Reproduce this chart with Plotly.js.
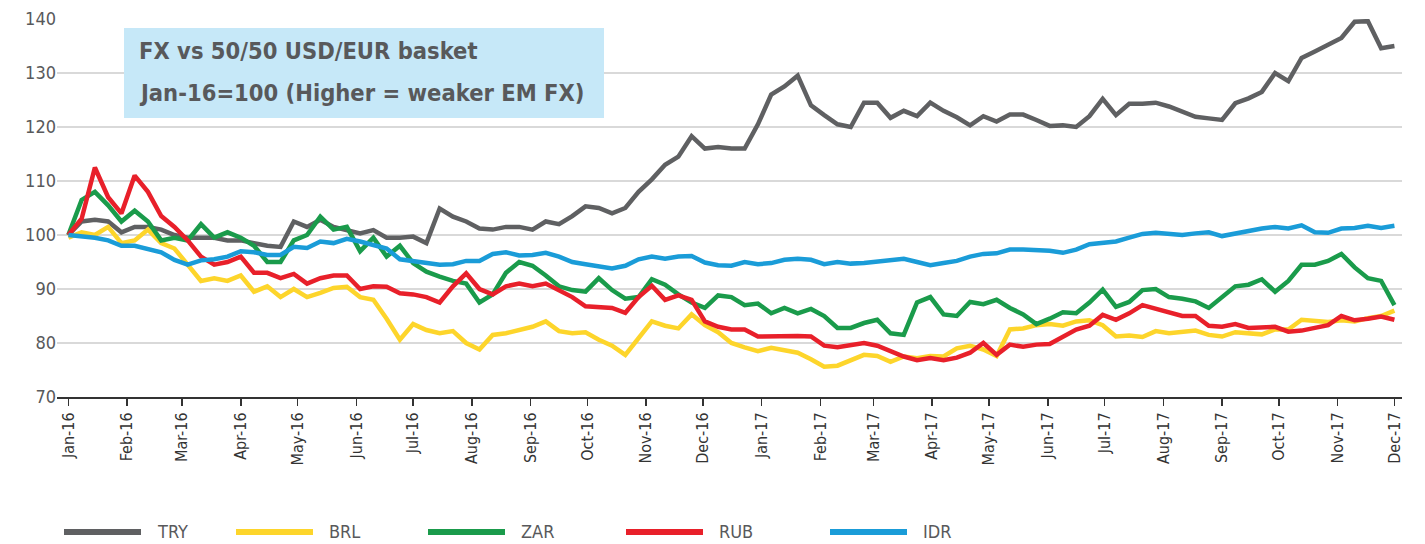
<!DOCTYPE html>
<html>
<head>
<meta charset="utf-8">
<script src="https://cdn.plot.ly/plotly-3.0.1.min.js"></script>
<style>
  html, body { margin: 0; padding: 0; background: #ffffff; }
  #chart { width: 1425px; height: 544px; }
</style>
</head>
<body>
<div id="chart"></div>
<script>
// Weekly observations, starting 1 Jan 2016 (101 weeks up to 1 Dec 2017)
const startDate = '2016-01-01';
const weeks = 101;

const seriesNames = ['TRY', 'BRL', 'ZAR', 'RUB', 'IDR'];
const seriesColors = ['#5f6062', '#fdd52b', '#1a9b4b', '#e8202a', '#1a9cd8'];

const TRY = [
  100, 102.5, 102.8, 102.5, 100.5, 101.5, 101.5, 101, 100, 99.5, 99.5, 99.5, 99, 99, 98.5, 98, 97.8,
  102.5, 101.5, 102.8, 101.5, 100.9, 100.3, 100.9, 99.5, 99.5, 99.7, 98.5, 104.9, 103.4, 102.5, 101.2, 101, 101.5,
  101.5, 101, 102.5, 102, 103.5, 105.3, 105, 104, 105, 108, 110.3, 113, 114.5, 118.3, 116, 116.3, 116,
  116, 120.5, 126, 127.5, 129.5, 124, 122.2, 120.5, 120, 124.5, 124.5, 121.7, 123, 122, 124.5, 123,
  121.8, 120.3, 122, 121, 122.3, 122.3, 121.3, 120.2, 120.3, 120, 122, 125.2, 122.2, 124.3, 124.3, 124.5, 123.8,
  122.8, 121.9, 121.6, 121.3, 124.4, 125.3, 126.5, 130, 128.5, 132.8, 134, 135.3, 136.5, 139.5, 139.6, 134.6, 135
];
const BRL = [
  99.5, 100.5, 100, 101.5, 98.5, 99, 101, 98.5, 97.5, 94.5, 91.5, 92, 91.5, 92.5, 89.5, 90.5, 88.5,
  90, 88.5, 89.3, 90.2, 90.4, 88.5, 88, 84.5, 80.6, 83.5, 82.4, 81.8, 82.2, 80, 78.8, 81.5, 81.8,
  82.5, 83, 84, 82.2, 81.8, 82, 80.6, 79.5, 77.8, 80.8, 84, 83.2, 82.7, 85.3, 83.3, 82, 80,
  79.2, 78.5, 79.1, 78.6, 78.2, 77, 75.6, 75.8, 76.8, 77.8, 77.6, 76.5, 77.5, 77.2, 77.6, 77.5,
  79, 79.5, 78.8, 77.6, 82.5, 82.7, 83.3, 83.5, 83.2, 84, 84.2, 83.3, 81.2, 81.4, 81.1, 82.2, 81.8,
  82, 82.3, 81.5, 81.2, 82, 81.8, 81.6, 82.5, 82.5, 84.3, 84.1, 83.9, 84.2, 84, 84.6, 85, 86
];
const ZAR = [
  100, 106.5, 108, 105.5, 102.5, 104.5, 102.5, 99, 99.5, 99, 102, 99.5, 100.5, 99.5, 98, 95, 95,
  99, 100, 103.4, 101, 101.5, 97, 99.5, 96, 98, 94.8, 93.2, 92.3, 91.5, 91, 87.5, 89, 93,
  95, 94.3, 92.5, 90.5, 89.8, 89.5, 92, 89.8, 88.2, 88.5, 91.8, 90.8, 89, 87.5, 86.5, 88.8, 88.5,
  87, 87.3, 85.5, 86.5, 85.5, 86.3, 85, 82.8, 82.8, 83.7, 84.3, 81.8, 81.5, 87.5, 88.5, 85.3,
  85, 87.6, 87.2, 88, 86.5, 85.3, 83.5, 84.5, 85.7, 85.5, 87.5, 89.9, 86.7, 87.6, 89.8, 90, 88.5,
  88.2, 87.7, 86.5, 88.5, 90.5, 90.8, 91.8, 89.5, 91.5, 94.5, 94.5, 95.2, 96.5, 94, 92, 91.5, 87
];
const RUB = [
  100, 103, 112.5, 107, 104, 111, 108, 103.5, 101.5, 99, 96, 94.5, 95, 96, 93, 93, 92,
  92.8, 91, 92, 92.5, 92.5, 90, 90.5, 90.4, 89.2, 89, 88.5, 87.5, 90.5, 92.9, 90, 89, 90.5,
  91, 90.5, 91, 89.7, 88.5, 86.8, 86.7, 86.5, 85.6, 88.5, 90.6, 88, 88.8, 88, 84, 83, 82.5,
  82.5, 81.2, 81.3, 81.4, 81.3, 81.2, 79.5, 79.2, 79.7, 80, 79.5, 78.5, 77.5, 76.8, 77.2, 76.8,
  77.3, 78.2, 80, 77.8, 79.7, 79.3, 79.7, 79.8, 81.2, 82.5, 83.2, 85.2, 84.3, 85.5, 87, 86.3, 85.7,
  85, 85, 83.2, 83, 83.5, 82.8, 82.8, 83, 82.1, 82.3, 82.8, 83.3, 85, 84.2, 84.5, 84.9, 84.3
];
const IDR = [
  100, 99.8, 99.5, 99, 98, 98, 97.3, 96.8, 95.4, 94.5, 95.3, 95.5, 96, 97, 96.8, 96.3, 96.3,
  97.8, 97.6, 98.8, 98.5, 99.3, 98.8, 98.2, 97.5, 95.5, 95.2, 94.8, 94.5, 94.6, 95.2, 95.2, 96.5, 96.8,
  96.2, 96.3, 96.7, 96, 95, 94.6, 94.3, 93.8, 94.3, 95.5, 96, 95.6, 96, 96.1, 94.9, 94.4, 94.3,
  95, 94.6, 94.8, 95.4, 95.6, 95.4, 94.6, 95, 94.7, 94.8, 95.1, 95.5, 95.6, 95, 94.4, 94.8,
  95.2, 96, 96.5, 96.6, 97.3, 97.3, 97.2, 97.1, 96.7, 97.3, 98.3, 98.6, 98.8, 99.5, 100.2, 100.4, 100.2,
  100, 100.3, 100.5, 99.8, 100.3, 100.8, 101.2, 101.5, 101.2, 101.8, 100.5, 100.4, 101.2, 101.3, 101.7, 101.3, 101.7
];

const titleLines = ['FX vs 50/50 USD/EUR basket', 'Jan-16=100 (Higher = weaker EM FX)'];

// ---- build chart ----
const dates = [];
const t0 = Date.parse(startDate + 'T00:00:00Z');
for (let i = 0; i < weeks; i++) {
  dates.push(new Date(t0 + i * 7 * 86400000).toISOString().slice(0, 10));
}
const seriesValues = [TRY, BRL, ZAR, RUB, IDR];

const FONT = '"Liberation Sans Narrow", "DejaVu Sans Condensed", "Roboto Condensed", Roboto, sans-serif';

const traces = seriesNames.map((n, i) => ({
  type: 'scatter', mode: 'lines', name: n,
  x: dates, y: seriesValues[i],
  line: { color: seriesColors[i], width: 4.5, shape: 'linear' },
  showlegend: false, hoverinfo: 'x+y+name'
}));

// pixel helpers (plot area: x 57..1402, y 19..397)
const W = 1425, H = 544, L = 57, R = 1402, T = 19, B = 397;
const px = x => (x - L) / (R - L);
const py = y => (B - y) / (B - T);

const shapes = [];
const annotations = [];

// title box
shapes.push({ type: 'rect', xref: 'paper', yref: 'paper', x0: px(124), x1: px(604), y0: py(118), y1: py(28),
  fillcolor: '#c6e8f8', line: { width: 0 }, layer: 'above' });
annotations.push({ xref: 'paper', yref: 'paper', x: px(137), y: py(51), xanchor: 'left', yanchor: 'middle',
  text: '<b>' + titleLines[0] + '</b>', showarrow: false, font: { family: FONT, size: 23.5, color: '#58595b' } });
annotations.push({ xref: 'paper', yref: 'paper', x: px(137), y: py(93), xanchor: 'left', yanchor: 'middle',
  text: '<b>' + titleLines[1] + '</b>', showarrow: false, font: { family: FONT, size: 23.5, color: '#58595b' } });

// custom legend
const legendX = [64, 236, 428, 626, 830];
seriesNames.forEach((n, i) => {
  shapes.push({ type: 'line', xref: 'paper', yref: 'paper', x0: px(legendX[i]), x1: px(legendX[i] + 77),
    y0: py(532), y1: py(532), line: { color: seriesColors[i], width: 6 } });
  annotations.push({ xref: 'paper', yref: 'paper', x: px(legendX[i] + 91), y: py(531), xanchor: 'left', yanchor: 'middle',
    text: n, showarrow: false, font: { family: FONT, size: 18, color: '#58595b' } });
});

const layout = {
  width: W, height: H,
  margin: { l: L, r: W - R, t: T, b: H - B },
  paper_bgcolor: '#ffffff', plot_bgcolor: '#ffffff',
  font: { family: FONT, color: '#58595b' },
  showlegend: false,
  xaxis: {
    type: 'date',
    range: ['2015-12-26', '2017-12-05'],
    tick0: '2016-01-01', dtick: 'M1', tickformat: '%b-%y',
    tickangle: -90,
    ticks: 'outside', ticklen: 7, tickwidth: 1.5, tickcolor: '#333333',
    showline: true, linecolor: '#333333', linewidth: 2,
    showgrid: false, zeroline: false,
    tickfont: { family: FONT, size: 16, color: '#333333' }
  },
  yaxis: {
    range: [70, 140], dtick: 10,
    showgrid: true, gridcolor: '#d9d9d9', gridwidth: 1.5,
    zeroline: false, showline: false, ticks: '',
    tickfont: { family: FONT, size: 18, color: '#58595b' }
  },
  shapes: shapes,
  annotations: annotations
};

Plotly.newPlot('chart', traces, layout, { displayModeBar: false, staticPlot: true });
</script>
</body>
</html>
